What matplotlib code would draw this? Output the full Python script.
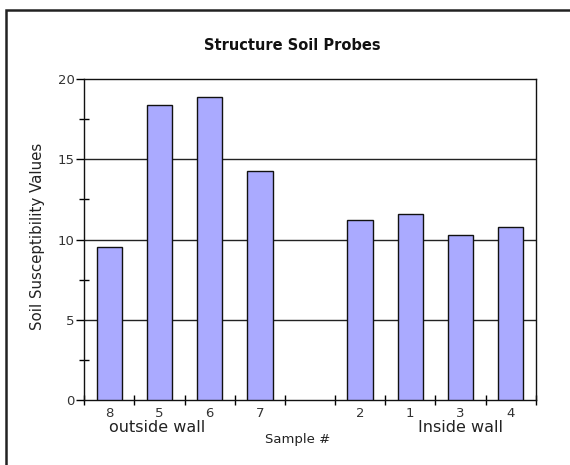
import matplotlib
matplotlib.use("Agg")
import matplotlib.pyplot as plt
from matplotlib.patches import Rectangle
import numpy as np

# Data
samples = ["8", "5", "6", "7", "", "2", "1", "3", "4"]
values = [9.55, 18.37, 18.87, 14.3, np.nan, 11.25, 11.6, 10.27, 10.81]
y_ticks = [0, 5, 10, 15, 20]
group_labels = ["outside wall", "Inside wall"]

plt.rcParams['font.family'] = ['DejaVu Sans']

W, H = 570, 465
fig = plt.figure(figsize=(W / 100, H / 100), dpi=100)
ax = fig.add_axes([84.3 / W, 1 - 400.3 / H, (535.7 - 84.3) / W, (400.3 - 79) / H])

x = np.arange(len(samples)) + 0.5
vals = np.array(values, dtype=float)
mask = ~np.isnan(vals)
ax.bar(x[mask], vals[mask], width=0.51, color="#aaaaff", edgecolor="#111111",
       linewidth=1.0, zorder=3)

ax.set_xlim(0, len(samples))
ax.set_ylim(0, 20)

# grid lines
for yv in y_ticks[1:-1]:
    ax.axhline(yv, color="#222222", linewidth=1.0, zorder=1)

# y ticks
ax.set_yticks(y_ticks)
ax.set_yticklabels([str(v) for v in y_ticks], fontsize=9.5, color="#333333")
ax.set_yticks(np.arange(2.5, 20, 5), minor=True)
ax.tick_params(axis="y", which="major", direction="out", length=6, width=1, pad=1)
ax.tick_params(axis="y", which="minor", direction="inout", length=7, width=1)

# x ticks: boundaries as tick marks, labels at centers
ax.set_xticks(np.arange(0, len(samples) + 1))
ax.set_xticklabels([])
ax.tick_params(axis="x", which="major", direction="inout", length=7, width=1)
ax.set_xticks(x, minor=True)
ax.set_xticklabels(samples, minor=True, fontsize=9.5, color="#333333")
ax.tick_params(axis="x", which="minor", length=0, pad=5)

for sp in ax.spines.values():
    sp.set_color("#111111")
    sp.set_linewidth(1.0)

# group labels
ax.text(1.45, -0.085, group_labels[0], transform=ax.get_xaxis_transform(),
        ha="center", va="center", fontsize=11.5, color="#222222")
ax.text(7.5, -0.085, group_labels[1], transform=ax.get_xaxis_transform(),
        ha="center", va="center", fontsize=11.5, color="#222222")
ax.text(4.25, -0.122, "Sample #", transform=ax.get_xaxis_transform(),
        ha="center", va="center", fontsize=9.5, color="#222222")

fig.text(37.5 / W, 1 - 236 / H, "Soil Susceptibility Values", rotation=90,
         ha="center", va="center", fontsize=10.8, color="#222222")
fig.text(292 / W, 1 - 45 / H, "Structure Soil Probes", ha="center",
         va="center", fontsize=10.5, fontweight="bold", color="#111111")

# outer frame
fig.patches.append(Rectangle((5.7 / W, -0.1), 1.2, 1.1 - 10 / H,
                             transform=fig.transFigure, fill=False,
                             edgecolor="#222222", linewidth=1.8))

fig.savefig("out.png", dpi=100)
